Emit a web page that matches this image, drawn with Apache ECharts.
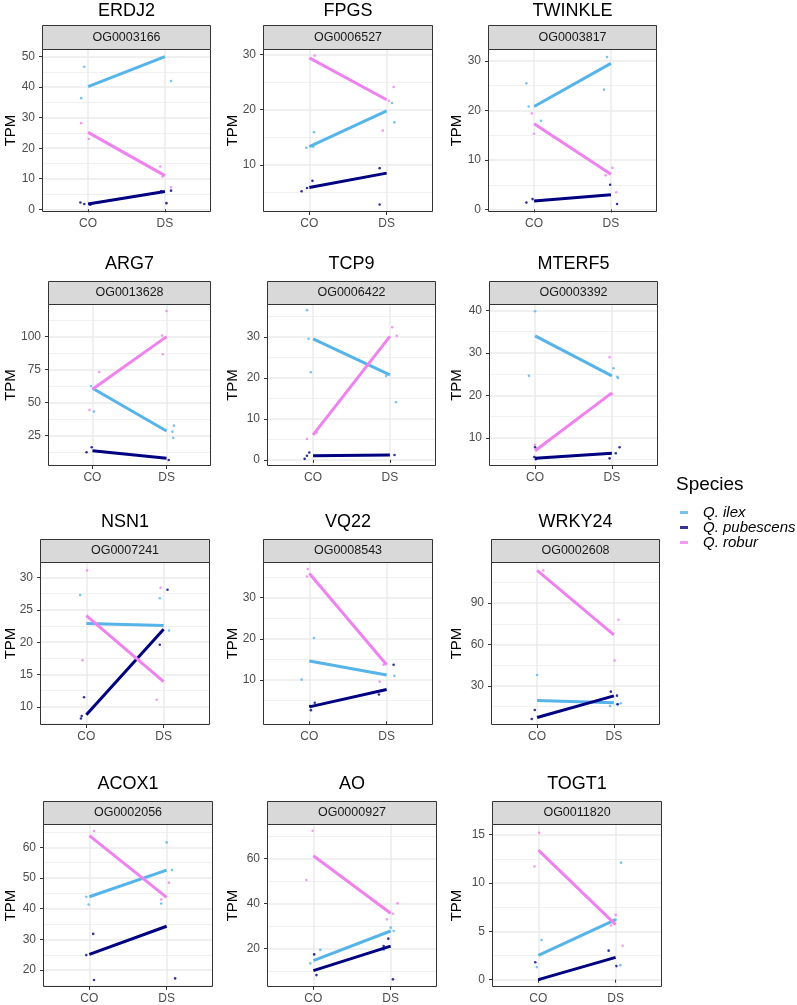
<!DOCTYPE html>
<html><head><meta charset="utf-8">
<script src="https://cdn.jsdelivr.net/npm/echarts@6/dist/echarts.min.js"></script>
<style>html,body{margin:0;padding:0;background:#fff}#c{width:797px;height:1005px}</style>
</head><body><div id="c"></div>
<script>
// ---------------- data ----------------
const genes = ['ERDJ2','FPGS','TWINKLE','ARG7','TCP9','MTERF5','NSN1','VQ22','WRKY24','ACOX1','AO','TOGT1'];
const orthogroups = ['OG0003166','OG0006527','OG0003817','OG0013628','OG0006422','OG0003392','OG0007241','OG0008543','OG0002608','OG0002056','OG0000927','OG0011820'];
const conditions = ['CO','DS'];
const speciesNames = ['Q. ilex','Q. pubescens','Q. robur'];

// mean TPM per panel [CO, DS]
const ilexMeans = [[40.2,50.0],[13.3,19.8],[20.8,29.5],[60.9,28.5],[29.6,20.8],[34.0,24.6],[22.9,22.6],[14.6,11.2],[19.3,17.8],[43.9,52.6],[14.5,27.7],[2.5,6.2]];
const pubescensMeans = [[1.75,5.8],[5.9,8.5],[1.7,3.0],[13.6,7.8],[1.0,1.2],[5.2,6.4],[8.8,22.0],[3.5,7.7],[7.0,22.7],[25.1,34.3],[10.1,21.0],[0.0,2.3]];
const roburMeans = [[25.2,11.0],[29.4,21.8],[17.3,7.1],[60.1,100.0],[6.1,30.2],[7.0,20.6],[24.1,13.9],[35.8,13.7],[113.7,67.0],[63.8,43.7],[61.2,35.6],[13.4,5.7]];

// jittered replicate points [condition position + jitter, TPM]
const ilexPoints = [
 [[0.95,46.7],[0.91,36.4],[2.08,42.0]],
 [[1.06,15.9],[0.96,13.1],[1.05,13.3],[2.07,21.2],[2.10,17.7]],
 [[0.90,25.5],[0.93,20.8],[1.09,17.9],[1.95,30.8],[1.91,24.2]],
 [[0.98,62.6],[1.02,43.2],[2.10,32.6],[2.08,28.0],[2.09,23.2]],
 [[0.92,36.6],[0.94,29.6],[0.97,21.4],[2.08,14.1],[1.95,20.5]],
 [[1.00,39.8],[0.92,24.6],[2.02,26.4],[2.07,24.4],[2.08,24.1]],
 [[0.92,27.3],[1.95,26.8],[2.07,21.8]],
 [[1.06,20.2],[0.90,10.1],[2.10,11.0]],
 [[1.00,37.9],[1.95,15.4],[2.09,17.4],[2.04,16.6]],
 [[0.96,43.9],[0.99,41.4],[2.00,61.6],[2.07,52.6],[1.93,41.7]],
 [[1.09,19.3],[0.96,13.3],[2.00,29.2],[2.04,27.7],[1.91,19.3]],
 [[1.04,4.1],[0.98,1.3],[2.07,12.1],[2.06,1.5],[2.00,6.2]]
];
const pubescensPoints = [
 [[0.90,2.2],[0.95,1.7],[1.03,1.5],[2.08,6.1],[2.02,2.0],[1.95,5.9]],
 [[0.90,5.2],[0.97,5.8],[1.04,7.1],[1.91,9.4],[1.91,2.8]],
 [[0.90,1.4],[0.98,2.1],[1.99,5.0],[2.08,1.1]],
 [[0.92,12.4],[0.99,16.2],[2.03,6.6]],
 [[0.89,0.25],[0.92,1.0],[0.95,1.8],[2.06,1.2]],
 [[1.00,7.8],[1.01,5.0],[0.99,5.5],[2.05,6.4],[2.10,7.8],[1.97,5.2]],
 [[0.97,11.5],[0.94,8.6],[0.93,8.2],[2.05,28.1],[1.95,19.6]],
 [[1.07,4.5],[1.02,2.7],[1.01,3.7],[2.09,13.7],[1.90,6.5]],
 [[0.97,12.5],[0.93,6.0],[1.96,25.8],[2.04,22.9],[2.05,16.6]],
 [[0.96,24.9],[1.05,31.8],[1.06,16.8],[2.11,17.3]],
 [[1.01,17.3],[1.04,8.1],[1.97,24.3],[2.03,6.2],[1.91,21.0]],
 [[0.96,1.8],[1.01,0.0],[1.91,3.0],[2.01,1.4]]
];
const roburPoints = [
 [[0.91,28.2],[1.01,23.0],[1.94,14.0],[2.08,7.2],[1.97,10.7]],
 [[1.07,29.8],[2.09,24.1],[1.95,16.2],[2.03,21.6]],
 [[0.97,19.4],[1.00,15.3],[2.02,8.4],[1.93,6.9],[2.07,3.5]],
 [[1.09,73.2],[0.96,44.4],[2.00,119.4],[1.95,86.6],[1.94,100.8]],
 [[0.92,5.1],[1.05,6.7],[2.03,32.4],[2.09,30.3]],
 [[1.00,8.4],[1.97,29.0],[2.00,20.3]],
 [[1.01,31.1],[0.95,17.2],[1.96,28.4],[1.91,11.1]],
 [[0.98,36.9],[0.97,35.1],[1.91,9.6],[1.96,13.7]],
 [[1.08,113.7],[2.06,77.9],[2.01,48.4]],
 [[1.06,65.3],[2.03,48.5],[1.93,43.0]],
 [[0.99,72.3],[0.91,50.4],[2.09,40.0],[2.03,35.4],[1.95,32.9]],
 [[1.01,15.2],[0.95,11.7],[2.00,6.7],[2.09,3.5],[1.94,5.6]]
];

// y tick labels and axis limits per panel
const yTicks = [[0,10,20,30,40,50],[10,20,30],[0,10,20,30],[25,50,75,100],[0,10,20,30],[10,20,30,40],[10,15,20,25,30],[10,20,30],[30,60,90],[20,30,40,50,60],[20,40,60],[0,5,10,15]];
const yLimits = [[-0.9,52.5],[1.45,31.0],[-0.5,32.4],[2.0,124.7],[-1.5,38.1],[3.4,41.5],[7.2,32.4],[-0.9,38.6],[1.6,119.8],[14.5,67.6],[2.8,75.3],[-0.76,16.1]];

// ---------------- layout & style ----------------
const FONT = "'Liberation Sans', Arial, Helvetica, sans-serif";
const colors = ['#56B4E9','#000080','#EE82EE'];
const panelLeft  = [42,263,488, 48,267,489, 40,263,491, 43,267,492];
const panelRight = [211,433,657, 211,436,658, 210,433,660, 213,437,662];
const rowPlotTop = [49,304,562,824];
const rowPlotBottom = [212,466,725,987];
const rowStripTop = [25,281,539,801];
const rowTitleY = [11,264,522,784];
const tpmX = [11,233,457];

const grids = [], xAxes = [], yAxes = [], series = [], graphics = [];
const meansBySpecies = [ilexMeans, pubescensMeans, roburMeans];
const pointsBySpecies = [ilexPoints, pubescensPoints, roburPoints];

function condLabel(v){
  const k = Math.round(v);
  return Math.abs(v - k) < 1e-6 && k >= 1 && k <= conditions.length ? conditions[k-1] : '';
}

for (let i = 0; i < genes.length; i++) {
  const r = Math.floor(i/3), c = i % 3;
  const L = panelLeft[i], R = panelRight[i], T = rowPlotTop[r], B = rowPlotBottom[r];
  grids.push({left: L, top: T, width: R - L, height: B - T, show: true, backgroundColor: '#fff', borderWidth: 0, containLabel: false});
  xAxes.push({
    type: 'value', gridIndex: i, min: 0.4, max: conditions.length + 0.6, minInterval: 1, maxInterval: 1,
    axisLine: {show: false},
    axisTick: {show: true, length: 3, lineStyle: {color: '#333333', width: 1}, customValues: conditions.map((_, k) => k + 1)},
    axisLabel: {customValues: conditions.map((_, k) => k + 1), formatter: condLabel, color: '#4D4D4D', fontSize: 12, margin: 6, fontFamily: FONT},
    splitLine: {show: true, lineStyle: {color: '#EBEBEB', width: 1.5}}
  });
  const step = yTicks[i][1] - yTicks[i][0];
  yAxes.push({
    type: 'value', gridIndex: i, min: yLimits[i][0], max: yLimits[i][1], minInterval: step, maxInterval: step,
    axisLine: {show: false},
    axisTick: {show: true, length: 3, lineStyle: {color: '#333333', width: 1}, customValues: yTicks[i]},
    axisLabel: {customValues: yTicks[i], color: '#4D4D4D', fontSize: 12, margin: 7, fontFamily: FONT},
    splitLine: {show: true, lineStyle: {color: '#EBEBEB', width: 1.5}},
    minorTick: {show: false, splitNumber: 2},
    minorSplitLine: {show: true, lineStyle: {color: '#EEEEEE', width: 0.8}}
  });
  for (let s = 0; s < 3; s++) {
    series.push({
      type: 'scatter', name: speciesNames[s], xAxisIndex: i, yAxisIndex: i,
      data: pointsBySpecies[s][i], symbolSize: 2.6, z: 2, silent: true,
      itemStyle: {color: colors[s]}
    });
  }
  for (let s = 0; s < 3; s++) {
    series.push({
      type: 'line', name: speciesNames[s], xAxisIndex: i, yAxisIndex: i,
      data: meansBySpecies[s][i].map((v, k) => [k + 1, v]),
      showSymbol: false, symbol: 'none', z: 3, silent: true,
      lineStyle: {color: colors[s], width: 3, cap: 'butt'}, itemStyle: {color: colors[s]}
    });
  }
  // panel border
  graphics.push({type: 'rect', z: 50, silent: true,
    shape: {x: L + 0.5, y: T + 0.5, width: R - L - 1, height: B - T - 1},
    style: {fill: null, stroke: '#333333', lineWidth: 1}});
  // strip
  graphics.push({type: 'rect', z: 50, silent: true,
    shape: {x: L + 0.5, y: rowStripTop[r] + 0.5, width: R - L - 1, height: T - rowStripTop[r]},
    style: {fill: '#D9D9D9', stroke: '#333333', lineWidth: 1}});
  graphics.push({type: 'text', z: 51, silent: true, x: (L + R) / 2, y: (rowStripTop[r] + T) / 2 + 0.5,
    style: {text: orthogroups[i], fontSize: 12.5, fontFamily: FONT, fill: '#1A1A1A', align: 'center', verticalAlign: 'middle'}});
  // title
  graphics.push({type: 'text', z: 51, silent: true, x: (L + R) / 2, y: rowTitleY[r],
    style: {text: genes[i], fontSize: 18, fontFamily: FONT, fill: '#000', align: 'center', verticalAlign: 'middle'}});
  // y-axis title
  graphics.push({type: 'text', z: 51, silent: true, x: tpmX[c], y: (T + B) / 2, rotation: Math.PI / 2,
    style: {text: 'TPM', fontSize: 15, fontFamily: FONT, fill: '#000', align: 'center', verticalAlign: 'middle'}});
}

// legend title
graphics.push({type: 'text', z: 51, silent: true, x: 676, y: 485,
  style: {text: 'Species', fontSize: 19, fontFamily: FONT, fill: '#000', align: 'left', verticalAlign: 'middle'}});

const chart = echarts.init(document.getElementById('c'), null, {renderer: 'canvas'});
chart.setOption({
  animation: false,
  backgroundColor: '#fff',
  grid: grids, xAxis: xAxes, yAxis: yAxes, series: series,
  legend: {
    data: speciesNames, orient: 'vertical', left: 675, top: 500, icon: 'rect',
    itemWidth: 8, itemHeight: 3, itemGap: 0, selectedMode: false,
    textStyle: {fontStyle: 'italic', fontSize: 15, color: '#000', lineHeight: 13, fontFamily: FONT, padding: [0, 0, 0, 10]}
  },
  graphic: graphics
});
</script></body></html>
